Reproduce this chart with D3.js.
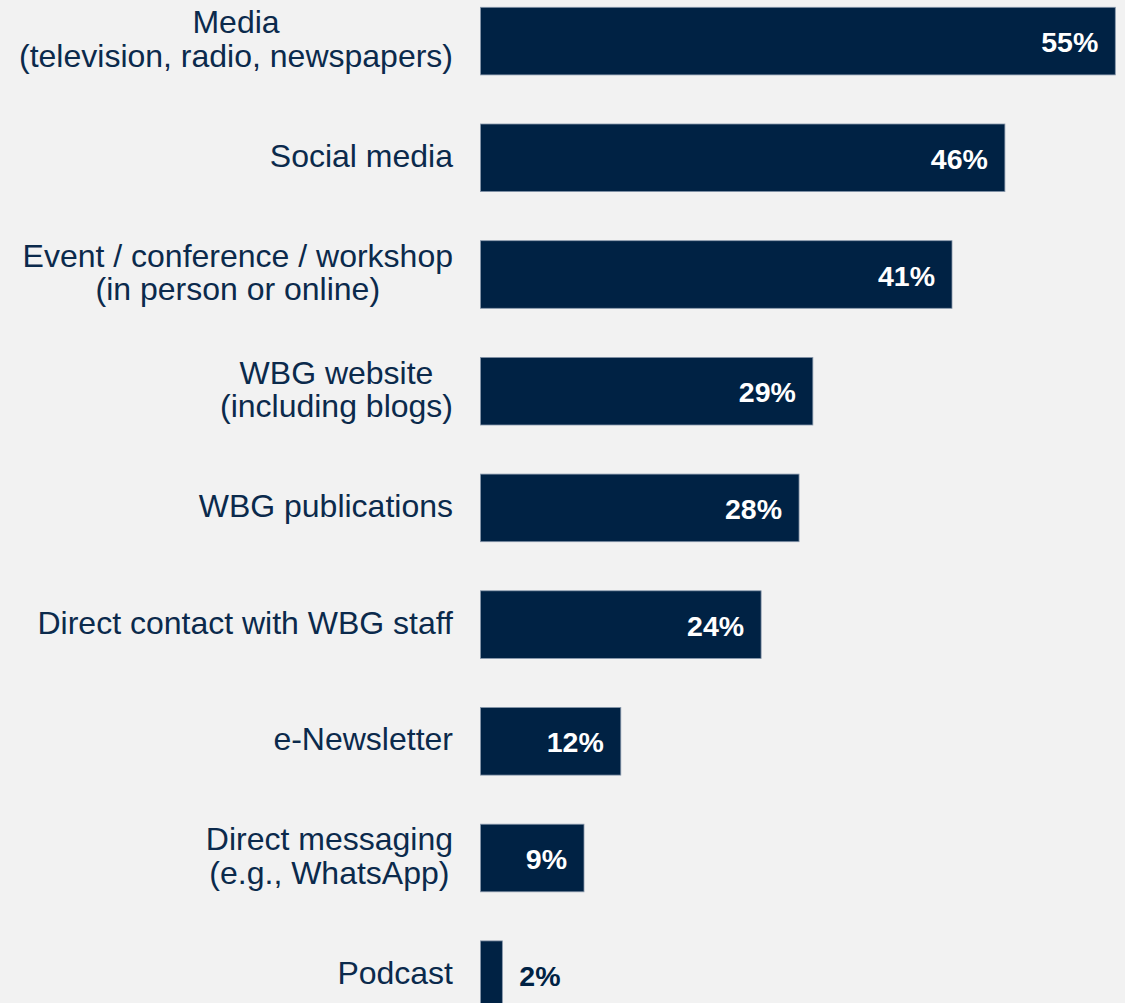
<!DOCTYPE html>
<html>
<head>
<meta charset="utf-8">
<script src="https://cdn.jsdelivr.net/npm/d3@7"></script>
<style>
  html, body { margin: 0; padding: 0; background: #f2f2f2; }
  svg { display: block; }
</style>
</head>
<body>
<svg id="chart" width="1125" height="1003"></svg>
<script>
const categories = [
  ["Media", "(television, radio, newspapers)"],
  ["Social media"],
  ["Event / conference / workshop", "(in person or online)"],
  ["WBG website", "(including blogs)"],
  ["WBG publications"],
  ["Direct contact with WBG staff"],
  ["e-Newsletter"],
  ["Direct messaging", "(e.g., WhatsApp)"],
  ["Podcast"]
];
const values = [55.2, 45.6, 41.0, 28.9, 27.7, 24.4, 12.2, 9.0, 1.9];
const valueLabels = ["55%", "46%", "41%", "29%", "28%", "24%", "12%", "9%", "2%"];

const W = 1125, H = 1003;
const navy = "#002244";
const textColor = "#0b2a4c";
const svg = d3.select("#chart");
svg.append("rect").attr("width", W).attr("height", H).attr("fill", "#f2f2f2");

const ids = categories.map((c, i) => i);
const y = d3.scaleBand().domain(ids).range([7.3, 1008.5]).paddingInner(0.4207).paddingOuter(0);
const x = d3.scaleLinear().domain([0, 60]).range([480.5, 480.5 + 690]);

const g = svg.append("g");

// bars
g.selectAll("rect.bar").data(ids).join("rect")
  .attr("class", "bar")
  .attr("x", x(0))
  .attr("y", i => y(i))
  .attr("width", i => x(values[i]) - x(0))
  .attr("height", y.bandwidth())
  .attr("fill", navy)
  .attr("stroke", "#8797ab")
  .attr("stroke-width", 0.8);

// category labels (center-aligned lines, block right-aligned)
const labelRight = 453;
const lh = 33.4;
ids.forEach(i => {
  const lines = categories[i];
  const cy = y(i) + y.bandwidth() / 2;
  const t = g.append("text")
    .attr("font-family", "'Liberation Sans', Arial, sans-serif")
    .attr("font-size", 32)
    .attr("fill", textColor)
    .attr("text-anchor", "middle");
  const spans = lines.map((ln, k) => t.append("tspan")
    .attr("y", cy + 9 + (k - (lines.length - 1) / 2) * lh)
    .text(ln));
  const maxW = d3.max(spans, s => s.node().getComputedTextLength());
  spans.forEach(s => s.attr("x", labelRight - maxW / 2));
});

// value labels
ids.forEach(i => {
  const cy = y(i) + y.bandwidth() / 2;
  const end = x(values[i]);
  const t = g.append("text")
    .attr("font-family", "'Liberation Sans', Arial, sans-serif")
    .attr("font-size", 28.5)
    .attr("font-weight", "bold")
    .attr("y", cy + 11)
    .text(valueLabels[i]);
  const tw = t.node().getComputedTextLength();
  if (end - x(0) > tw + 30) {
    t.attr("x", end - 17).attr("text-anchor", "end").attr("fill", "#ffffff");
  } else {
    t.attr("x", end + 17).attr("text-anchor", "start").attr("fill", navy);
  }
});
</script>
</body>
</html>
